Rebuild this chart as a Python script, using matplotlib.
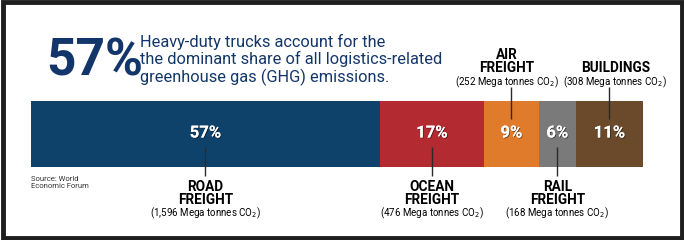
import matplotlib
matplotlib.use("Agg")
import matplotlib.pyplot as plt
import matplotlib.patheffects as pe
from matplotlib.patches import Rectangle

# ---- data ----
categories = ["ROAD\nFREIGHT", "OCEAN\nFREIGHT", "AIR\nFREIGHT", "RAIL\nFREIGHT", "BUILDINGS"]
tonnes = [1596, 476, 252, 168, 308]
pct_labels = ["57%", "17%", "9%", "6%", "11%"]
tonne_labels = ["(1,596 Mega tonnes CO$_2$)", "(476 Mega tonnes CO$_2$)",
                "(252 Mega tonnes CO$_2$)", "(168 Mega tonnes CO$_2$)",
                "(308 Mega tonnes CO$_2$)"]
label_side = ["below", "below", "above", "below", "above"]
colors = ["#0f426b", "#b42a31", "#e07b2b", "#7a7a7a", "#6b4a2b"]
headline_pct = "57%"
headline_text = ("Heavy-duty trucks account for the\n"
                 "the dominant share of all logistics-related\n"
                 "greenhouse gas (GHG) emissions.")
source_text = "Source: World\nEconomic Forum"

FONT = ["Roboto", "Liberation Sans", "DejaVu Sans"]

W, H = 684, 240
fig = plt.figure(figsize=(W / 100, H / 100), dpi=100)
fig.patch.set_facecolor("white")

# frame
fig.patches.append(Rectangle((2.5 / W, 2 / H), 1 - 4.5 / W, 1 - 4 / H, transform=fig.transFigure,
                             fill=False, edgecolor="#1e1e1e", linewidth=3.5))

# axes for the bar: bar occupies pixels y 101..167, x 31..643
bar_top, bar_bot = 101, 167
unit = bar_bot - bar_top
ax = fig.add_axes([31 / W, 0, (643 - 31) / W, 1])
total = sum(tonnes)
ax.set_xlim(0, total)
ax.set_ylim(-(H - bar_bot) / unit, 1 + bar_top / unit)
ax.axis("off")


def py(p):  # pixel row -> data y
    return (bar_bot - p) / unit


# horizontal nudge (pixels) of the label blocks above the bar
above_shift = {2: -5, 4: 6}

left = 0
for i, (v, c) in enumerate(zip(tonnes, colors)):
    ax.barh(0.5, v, left=left, height=1, color=c, edgecolor="none")
    cx = left + v / 2
    ax.text(cx, py(133), pct_labels[i], color="white", ha="center", va="center",
            fontsize=12, fontweight="bold", family=FONT,
            path_effects=[pe.withSimplePatchShadow(offset=(0.6, -0.6), shadow_rgbFace="black", alpha=0.5),
                          pe.Normal()])
    if label_side[i] == "below":
        ax.plot([cx, cx], [py(147), py(176)], color="#2a2a2a", lw=1, solid_capstyle="butt", clip_on=False)
        ax.text(cx, py(193.5), categories[i], ha="center", va="center", fontsize=9.8,
                fontweight="bold", family=FONT, linespacing=0.95, clip_on=False)
        ax.text(cx, py(213.5), tonne_labels[i], ha="center", va="center", fontsize=7,
                family=FONT, clip_on=False)
    else:
        ax.plot([cx, cx], [py(87), py(119)], color="#2a2a2a", lw=1, solid_capstyle="butt", clip_on=False)
        dx = above_shift.get(i, 0)
        ax.annotate(categories[i], xy=(cx, py(61.5) if "\n" in categories[i] else py(68)),
                    xytext=(dx, 0), textcoords="offset pixels", ha="center", va="center",
                    fontsize=9.8, fontweight="bold", family=FONT, linespacing=0.95,
                    annotation_clip=False)
        ax.annotate(tonne_labels[i], xy=(cx, py(82)), xytext=(dx, 0), textcoords="offset pixels",
                    ha="center", va="center", fontsize=7, family=FONT, annotation_clip=False)
    left += v

# headline
fig.text(46 / W, 1 - 61 / H, headline_pct, color="#13366a", fontsize=37, fontweight="bold",
         family=FONT, ha="left", va="center")
fig.text(140 / W, 1 - 60 / H, headline_text, color="#13366a", fontsize=11.8, family=FONT,
         ha="left", va="center", linespacing=1.08)

# source
fig.text(31 / W, 1 - 182.5 / H, source_text, color="#333333", fontsize=5.5, family=FONT,
         ha="left", va="center", linespacing=1.25)

fig.savefig("out.png", dpi=100, facecolor="white")
